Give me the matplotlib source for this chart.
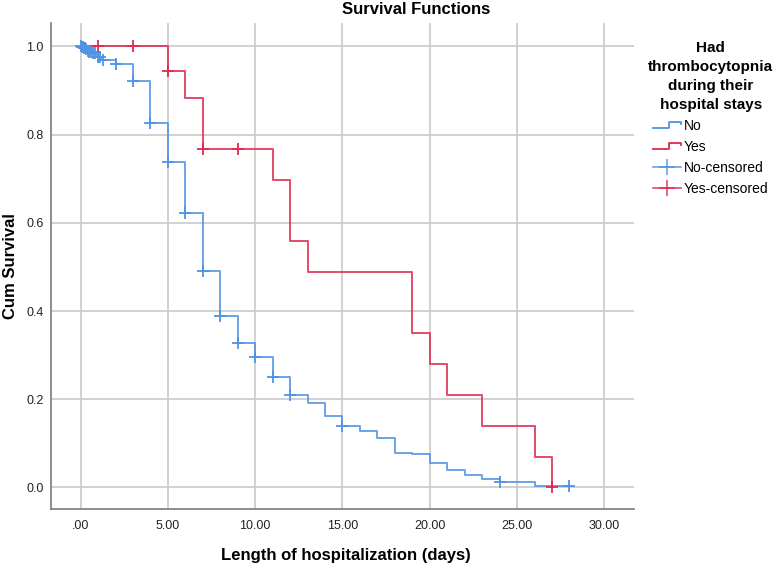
"""Kaplan-Meier style survival plot, thrombocytopenia vs none"""

import numpy as np
import matplotlib
matplotlib.use("Agg")
import matplotlib.pyplot as plt
from matplotlib.lines import Line2D
from matplotlib.legend_handler import HandlerBase

plt.rcParams["font.family"] = ["Liberation Sans", "DejaVu Sans"]

# ---- data ----
# "No" group: step times (days) and survival after each step
no_times = [0, 0.1, 0.2, 0.3, 0.4, 0.5, 0.7, 0.9, 1.0, 1.2, 2, 3, 4, 5, 6, 7, 8, 9,
            10, 11, 12, 13, 14, 15, 16, 17, 18, 19, 20, 21, 22, 23, 24, 26]
no_surv = [1.0, 0.998, 0.996, 0.993, 0.990, 0.987, 0.984, 0.979, 0.975, 0.970,
           0.961, 0.922, 0.826, 0.737, 0.622, 0.490, 0.388, 0.327, 0.295, 0.250,
           0.210, 0.191, 0.162, 0.140, 0.127, 0.112, 0.079, 0.075, 0.056, 0.040,
           0.027, 0.019, 0.013, 0.004]
no_end = 28
no_censored = [0.05, 0.1, 0.15, 0.2, 0.25, 0.3, 0.4, 0.5, 0.6, 0.7, 0.8, 1.0, 1.1,
               1.3, 2, 3, 4, 5, 6, 7, 8, 9, 10, 11, 12, 15, 24, 28]

# "Yes" group
yes_times = [0, 5, 6, 7, 11, 12, 13, 19, 20, 21, 23, 26, 27]
yes_surv = [1.0, 0.944, 0.883, 0.767, 0.697, 0.558, 0.488, 0.349, 0.279, 0.209,
            0.140, 0.070, 0.0]
yes_end = 27
yes_censored = [1, 3, 5, 7, 9, 27]

x_ticks = [0, 5, 10, 15, 20, 25, 30]
x_ticklabels = [".00", "5.00", "10.00", "15.00", "20.00", "25.00", "30.00"]
y_ticks = [0.0, 0.2, 0.4, 0.6, 0.8, 1.0]

BLUE = "#4f93e3"
RED = "#df2a52"


def surv_at(times, surv, t):
    # survival value in effect at time t (right-continuous step)
    i = np.searchsorted(times, t, side="right") - 1
    return np.asarray(surv)[i]


class StepHandler(HandlerBase):
    # little step-shaped legend key like SPSS draws
    def create_artists(self, legend, orig_handle, xdescent, ydescent,
                       width, height, fontsize, trans):
        lo = -ydescent + 0.2 * height
        hi = -ydescent + 0.85 * height
        xm = -xdescent + 0.58 * width
        xs = [-xdescent, xm, xm, -xdescent + width, -xdescent + width]
        ys = [lo, lo, hi, hi, hi - 0.3 * (hi - lo)]
        ln = Line2D(xs, ys, color=orig_handle.get_color(), lw=1.3,
                    transform=trans)
        return [ln]


fig = plt.figure(figsize=(7.77, 5.70), dpi=100)
ax = fig.add_axes([0.0653, 0.107, 0.7507, 0.8526])

for times, surv, end, col, cens in [
    (no_times, no_surv, no_end, BLUE, no_censored),
    (yes_times, yes_surv, yes_end, RED, yes_censored),
]:
    xs = list(times) + [end]
    ys = list(surv) + [surv[-1]]
    ax.step(xs, ys, where="post", color=col, lw=1.4, alpha=0.85, zorder=3)
    ax.plot(cens, surv_at(times, surv, cens), "+", color=col, ms=8, mew=1.3,
            zorder=4)

ax.set_xlim(-1.71, 31.7)
ax.set_ylim(-0.049, 1.053)
ax.set_xticks(x_ticks)
ax.set_xticklabels(x_ticklabels)
ax.set_yticks(y_ticks)
ax.yaxis.set_major_formatter(plt.FormatStrFormatter("%.1f"))
ax.grid(True, color="#c9c9c9", lw=1.2, zorder=0)
ax.set_axisbelow(True)
ax.tick_params(axis="both", length=0, labelsize=9, colors="#222222")
ax.tick_params(axis="x", pad=8)
ax.tick_params(axis="y", pad=5)
ax.spines["top"].set_visible(False)
ax.spines["right"].set_visible(False)
for s in ["left", "bottom"]:
    ax.spines[s].set_color("#7a7a7a")
    ax.spines[s].set_linewidth(1.2)

ax.set_ylabel("Cum Survival", fontsize=12, fontweight="bold")
ax.yaxis.set_label_coords(-0.056, 0.5)
ax.set_xlabel("Length of hospitalization (days)", fontsize=12, fontweight="bold")
ax.xaxis.set_label_coords(0.506, -0.08)

fig.text(416 / 777, 1 - 9 / 570, "Survival Functions", ha="center",
         va="center", fontsize=12, fontweight="bold")

h_no = Line2D([], [], color=BLUE)
h_yes = Line2D([], [], color=RED)
h_no_c = Line2D([], [], color=BLUE, marker="+", ms=11, mew=1.2, lw=1.2, alpha=0.85)
h_yes_c = Line2D([], [], color=RED, marker="+", ms=11, mew=1.2, lw=1.2, alpha=0.85)
leg = fig.legend([h_no, h_yes, h_no_c, h_yes_c],
                 ["No", "Yes", "No-censored", "Yes-censored"],
                 title="Had\nthrombocytopnia\nduring their\nhospital stays",
                 loc="upper left", bbox_to_anchor=(640 / 777, 1 - 33 / 570),
                 frameon=False, fontsize=10, handlelength=2.0,
                 handletextpad=0.2, labelspacing=0.5, borderpad=0.1,
                 alignment="center",
                 handler_map={h_no: StepHandler(), h_yes: StepHandler()})
leg.get_title().set_fontweight("bold")
leg.get_title().set_fontsize(11)
leg.get_title().set_multialignment("center")
leg.get_title().set_linespacing(1.45)
leg._legend_box.sep = 5

fig.savefig("out.png", dpi=100)
